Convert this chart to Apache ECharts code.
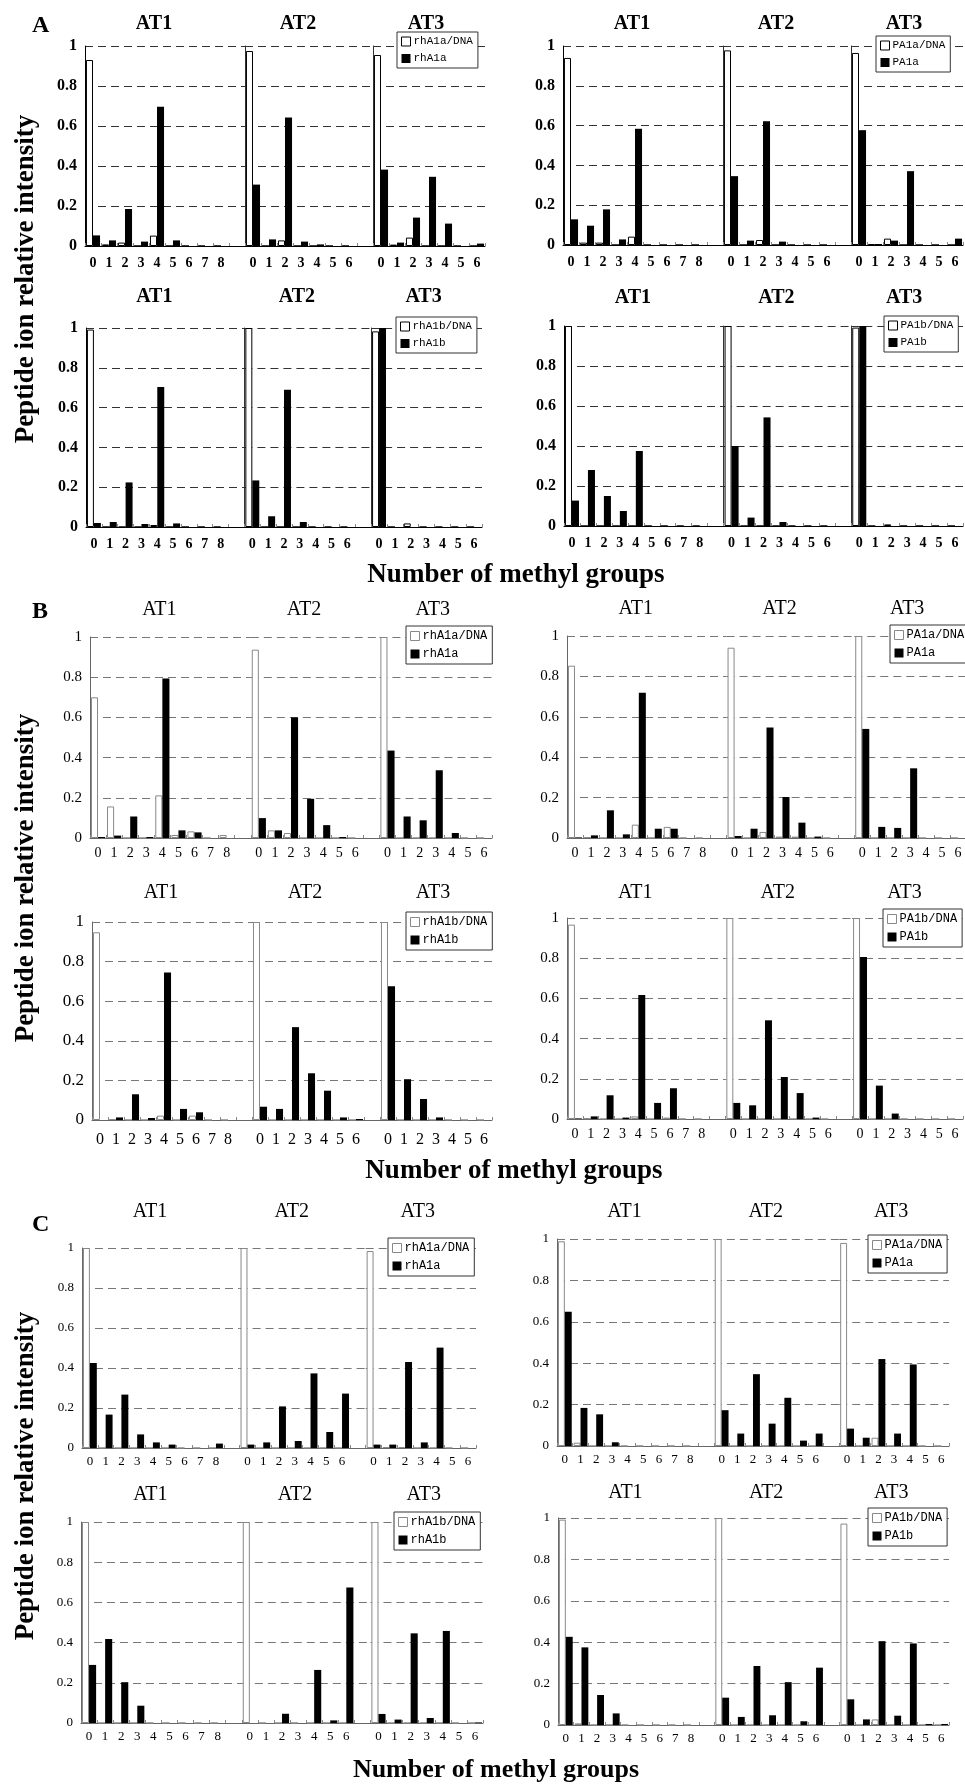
<!DOCTYPE html>
<html>
<head>
<meta charset="utf-8">
<script src="https://cdn.jsdelivr.net/npm/echarts@6.0.0/dist/echarts.min.js"></script>
<style>
  html, body { margin: 0; padding: 0; background: #fff; }
  #chart { width: 965px; height: 1784px; }
</style>
</head>
<body>
<div id="chart"></div>
<script>
// number of methyl groups per group
const at1Cats = ['0', '1', '2', '3', '4', '5', '6', '7', '8'];
const at23Cats = ['0', '1', '2', '3', '4', '5', '6'];
const groupNames = ['AT1', 'AT2', 'AT3'];
const yTicks = [0, 0.2, 0.4, 0.6, 0.8, 1];

// every array: AT1 (0-8), AT2 (0-6), AT3 (0-6)
// section A
const aRhA1aDna = [0.93, 0.008, 0.017, 0, 0.052, 0, 0, 0, 0, 0.975, 0, 0.028, 0, 0, 0, 0, 0.955, 0.007, 0.042, 0, 0, 0, 0];
const aRhA1a = [0.053, 0.028, 0.185, 0.022, 0.696, 0.028, 0, 0, 0, 0.307, 0.033, 0.643, 0.022, 0.008, 0, 0, 0.382, 0.017, 0.142, 0.346, 0.112, 0, 0.012];
const aPA1aDna = [0.94, 0.012, 0.012, 0, 0.042, 0, 0, 0, 0, 0.978, 0, 0.025, 0, 0, 0, 0, 0.965, 0.005, 0.032, 0, 0, 0, 0];
const aPA1a = [0.129, 0.097, 0.179, 0.028, 0.584, 0, 0, 0, 0, 0.346, 0.022, 0.622, 0.017, 0, 0, 0, 0.577, 0.005, 0.022, 0.371, 0, 0, 0.032];
const aRhA1bDna = [0.992, 0, 0, 0, 0.01, 0, 0, 0, 0, 1.0, 0, 0, 0, 0, 0, 0, 0.983, 0, 0.018, 0, 0, 0, 0];
const aRhA1b = [0.02, 0.025, 0.224, 0.015, 0.704, 0.018, 0, 0, 0, 0.234, 0.054, 0.69, 0.025, 0, 0, 0, 1.0, 0, 0, 0, 0, 0, 0];
const aPA1bDna = [1.0, 0, 0, 0, 0, 0, 0, 0, 0, 1.0, 0, 0, 0, 0, 0, 0, 0.992, 0, 0.008, 0, 0, 0, 0];
const aPA1b = [0.127, 0.28, 0.15, 0.075, 0.375, 0, 0, 0, 0, 0.40, 0.042, 0.543, 0.02, 0, 0, 0, 1.0, 0, 0, 0, 0, 0, 0];
// section B
const bRhA1aDna = [0.70, 0.157, 0, 0, 0.212, 0.015, 0.033, 0, 0.015, 0.937, 0.038, 0.025, 0, 0, 0, 0, 1.0, 0, 0, 0, 0, 0, 0];
const bRhA1a = [0.005, 0.012, 0.107, 0.005, 0.793, 0.038, 0.028, 0, 0, 0.099, 0.038, 0.60, 0.195, 0.064, 0.005, 0, 0.435, 0.107, 0.088, 0.337, 0.025, 0, 0];
const bPA1aDna = [0.853, 0.005, 0, 0, 0.066, 0, 0.055, 0, 0, 0.942, 0, 0.03, 0.007, 0.007, 0, 0, 1.0, 0, 0, 0, 0, 0, 0];
const bPA1a = [0.003, 0.013, 0.137, 0.018, 0.719, 0.046, 0.046, 0, 0, 0.01, 0.046, 0.547, 0.203, 0.076, 0.007, 0, 0.54, 0.055, 0.05, 0.345, 0, 0, 0];
const bRhA1bDna = [0.948, 0.005, 0, 0, 0.022, 0, 0.022, 0, 0, 1.0, 0, 0, 0, 0, 0, 0, 1.0, 0, 0, 0, 0, 0, 0];
const bRhA1b = [0, 0.013, 0.13, 0.01, 0.745, 0.056, 0.039, 0, 0, 0.067, 0.056, 0.469, 0.236, 0.148, 0.013, 0.005, 0.675, 0.206, 0.106, 0.013, 0, 0, 0];
const bPA1bDna = [0.967, 0.003, 0, 0, 0.013, 0, 0.007, 0, 0, 1.0, 0, 0, 0, 0, 0, 0, 1.0, 0, 0, 0, 0, 0, 0];
const bPA1b = [0.003, 0.013, 0.118, 0.007, 0.617, 0.08, 0.153, 0, 0, 0.08, 0.068, 0.491, 0.209, 0.129, 0.007, 0, 0.806, 0.166, 0.027, 0, 0, 0, 0];
// section C
const cRhA1aDna = [1.0, 0, 0, 0, 0, 0, 0, 0, 0, 1.0, 0, 0, 0, 0, 0, 0, 0.985, 0.005, 0.005, 0, 0, 0, 0];
const cRhA1a = [0.425, 0.167, 0.267, 0.068, 0.028, 0.017, 0, 0, 0.022, 0.017, 0.028, 0.208, 0.035, 0.373, 0.08, 0.272, 0.017, 0.017, 0.43, 0.028, 0.502, 0, 0];
const cPA1aDna = [0.989, 0.016, 0, 0, 0, 0, 0, 0, 0, 1.0, 0, 0, 0, 0, 0, 0, 0.981, 0, 0.04, 0, 0, 0, 0];
const cPA1a = [0.649, 0.184, 0.153, 0.018, 0, 0, 0, 0, 0, 0.173, 0.06, 0.347, 0.108, 0.233, 0.026, 0.06, 0.084, 0.04, 0.42, 0.06, 0.394, 0, 0];
const cRhA1bDna = [1.0, 0, 0, 0, 0, 0, 0, 0, 0, 1.0, 0, 0, 0, 0, 0, 0, 1.0, 0, 0, 0, 0, 0, 0];
const cRhA1b = [0.289, 0.418, 0.203, 0.086, 0, 0, 0, 0, 0, 0, 0, 0.046, 0, 0.264, 0.013, 0.674, 0.045, 0.017, 0.446, 0.025, 0.458, 0, 0.003];
const cPA1bDna = [0.992, 0.008, 0, 0, 0, 0, 0, 0, 0, 1.0, 0, 0, 0, 0, 0, 0, 0.973, 0, 0.027, 0, 0, 0, 0];
const cPA1b = [0.426, 0.375, 0.145, 0.056, 0, 0, 0, 0, 0, 0.132, 0.039, 0.285, 0.047, 0.207, 0.018, 0.277, 0.124, 0.027, 0.405, 0.045, 0.394, 0.005, 0.005];

const serif = '"Liberation Serif", "Times New Roman", serif';

// look of each section
const secStyle = {
  A: { weight: 'bold', yFs: 16, xFs: 14, xMargin: 10, split: '#333', axis: '#000', dnaBorder: '#000', sep: true, legFs: 11 },
  B: { weight: 'normal', yFs: 15, xFs: 14, xMargin: 8, split: '#777', axis: '#666', dnaBorder: '#888', sep: false, legFs: 12 },
  C: { weight: 'normal', yFs: 13, xFs: 13, xMargin: 7, split: '#777', axis: '#666', dnaBorder: '#888', sep: false, legFs: 12 }
};

// x0/x1: plot left/right, y1/y0: pixel rows of 1 and 0, ty: AT title row, lx/ly: legend box
const panels = [
  { sec: 'A', names: ['rhA1a/DNA', 'rhA1a'], dna: aRhA1aDna, pep: aRhA1a, x0: 85, x1: 485, y1: 46, y0: 246, ty: 24, lx: 397, ly: 32 },
  { sec: 'A', names: ['PA1a/DNA', 'PA1a'], dna: aPA1aDna, pep: aPA1a, x0: 563, x1: 963, y1: 46, y0: 245, ty: 24, lx: 876, ly: 36 },
  { sec: 'A', names: ['rhA1b/DNA', 'rhA1b'], dna: aRhA1bDna, pep: aRhA1b, x0: 86, x1: 482, y1: 328, y0: 527, ty: 297, lx: 396, ly: 317 },
  { sec: 'A', names: ['PA1b/DNA', 'PA1b'], dna: aPA1bDna, pep: aPA1b, x0: 564, x1: 963, y1: 326, y0: 526, ty: 298, lx: 884, ly: 316 },
  { sec: 'B', names: ['rhA1a/DNA', 'rhA1a'], dna: bRhA1aDna, pep: bRhA1a, x0: 90, x1: 492, y1: 637, y0: 838, ty: 610, lx: 406, ly: 626 },
  { sec: 'B', names: ['PA1a/DNA', 'PA1a'], dna: bPA1aDna, pep: bPA1a, x0: 567, x1: 966, y1: 636, y0: 838, ty: 609, lx: 890, ly: 625 },
  { sec: 'B', names: ['rhA1b/DNA', 'rhA1b'], dna: bRhA1bDna, pep: bRhA1b, x0: 92, x1: 492, y1: 922, y0: 1120, ty: 893, lx: 406, ly: 912, yFs: 17, xFs: 16, xMargin: 12 },
  { sec: 'B', names: ['PA1b/DNA', 'PA1b'], dna: bPA1bDna, pep: bPA1b, x0: 567, x1: 963, y1: 918, y0: 1119, ty: 893, lx: 883, ly: 909 },
  { sec: 'C', names: ['rhA1a/DNA', 'rhA1a'], dna: cRhA1aDna, pep: cRhA1a, x0: 82, x1: 476, y1: 1248, y0: 1448, ty: 1212, lx: 388, ly: 1238 },
  { sec: 'C', names: ['PA1a/DNA', 'PA1a'], dna: cPA1aDna, pep: cPA1a, x0: 557, x1: 949, y1: 1239, y0: 1446, ty: 1212, lx: 868, ly: 1235 },
  { sec: 'C', names: ['rhA1b/DNA', 'rhA1b'], dna: cRhA1bDna, pep: cRhA1b, x0: 81, x1: 483, y1: 1522, y0: 1723, ty: 1495, lx: 394, ly: 1512 },
  { sec: 'C', names: ['PA1b/DNA', 'PA1b'], dna: cPA1bDna, pep: cPA1b, x0: 558, x1: 949, y1: 1518, y0: 1725, ty: 1493, lx: 868, ly: 1508 }
];

const grids = [], xAxes = [], yAxes = [], series = [], legends = [], graphics = [];

// group slots: AT1 9 + 1 blank, AT2 7 + 1 blank, AT3 7
const slotCount = [10, 8, 7];
const slotOffset = [0, 10, 18];
const dataRange = [[0, 9], [9, 16], [16, 23]];

panels.forEach((p) => {
  const s = secStyle[p.sec];
  const yFs = p.yFs || s.yFs;
  const xFs = p.xFs || s.xFs;
  const xMargin = p.xMargin || s.xMargin;
  const slot = (p.x1 - p.x0) / 25;

  for (let g = 0; g < 3; g++) {
    const idx = grids.length;
    const left = p.x0 + slotOffset[g] * slot;
    const cats = g === 0 ? at1Cats.concat(['']) : g === 1 ? at23Cats.concat(['']) : at23Cats;
    const r = dataRange[g];

    grids.push({
      left: left,
      top: p.y1,
      width: slotCount[g] * slot,
      height: p.y0 - p.y1,
      outerBoundsMode: 'none'
    });
    xAxes.push({
      type: 'category',
      gridIndex: idx,
      data: cats,
      axisLine: { show: true, lineStyle: { color: s.axis, width: 1 } },
      axisTick: { show: true, inside: true, length: 3, lineStyle: { color: '#888' } },
      axisLabel: {
        interval: 0,
        margin: xMargin,
        color: '#000',
        fontFamily: serif,
        fontSize: xFs,
        fontWeight: s.weight
      },
      splitLine: { show: false }
    });
    yAxes.push({
      type: 'value',
      gridIndex: idx,
      min: 0,
      max: 1,
      interval: 0.2,
      axisLine: { show: g === 0 || s.sep, lineStyle: { color: g === 0 ? s.axis : '#333', width: 1 } },
      axisTick: { show: false },
      axisLabel: {
        show: g === 0,
        margin: 8,
        color: '#000',
        fontFamily: serif,
        fontSize: yFs,
        fontWeight: s.weight,
        formatter: (v) => String(+v.toFixed(1))
      },
      splitLine: { show: true, lineStyle: { color: s.split, type: [8, 5], width: 1 } }
    });
    series.push({
      name: p.names[0],
      type: 'bar',
      xAxisIndex: idx,
      yAxisIndex: idx,
      data: p.dna.slice(r[0], r[1]),
      barGap: '0%',
      barCategoryGap: '12%',
      itemStyle: { color: '#fff', borderColor: s.dnaBorder, borderWidth: 1 }
    });
    series.push({
      name: p.names[1],
      type: 'bar',
      xAxisIndex: idx,
      yAxisIndex: idx,
      data: p.pep.slice(r[0], r[1]),
      barGap: '0%',
      barCategoryGap: '12%',
      itemStyle: { color: '#000' }
    });

    // group title above the bars
    const n = r[1] - r[0];
    graphics.push({
      type: 'text',
      x: left + (n * slot) / 2 - 3,
      y: p.ty,
      style: {
        text: groupNames[g],
        font: s.weight + ' 20px ' + serif,
        fill: '#000',
        align: 'center',
        verticalAlign: 'middle',
        textAlign: 'center',
        textVerticalAlign: 'middle'
      }
    });
  }

  legends.push({
    left: p.lx,
    top: p.ly,
    orient: 'vertical',
    selectedMode: false,
    itemWidth: 9,
    itemHeight: 9,
    itemGap: 6,
    padding: [4, 5, 4, 4],
    backgroundColor: '#fff',
    borderColor: '#333',
    borderWidth: 1,
    textStyle: { fontFamily: '"Liberation Mono", monospace', fontSize: s.legFs, color: '#000', padding: [0, 0, 0, -2] },
    data: [
      { name: p.names[0], icon: 'rect', itemStyle: { color: '#fff', borderColor: s.dnaBorder, borderWidth: 1 } },
      { name: p.names[1], icon: 'rect', itemStyle: { color: '#000', borderWidth: 0 } }
    ]
  });
});

// section letters and shared axis titles
const sections = [
  { letter: 'A', ly: 14, yMid: 279, xTitleY: 575, xTitleX: 516, fs: 27 },
  { letter: 'B', ly: 600, yMid: 878, xTitleY: 1171, xTitleX: 514, fs: 27 },
  { letter: 'C', ly: 1213, yMid: 1476, xTitleY: 1770, xTitleX: 496, fs: 26 }
];
sections.forEach((sc) => {
  graphics.push({
    type: 'text',
    left: 32,
    top: sc.ly,
    style: { text: sc.letter, font: 'bold 24px ' + serif, fill: '#000' }
  });
  graphics.push({
    type: 'text',
    x: 26,
    y: sc.yMid,
    rotation: Math.PI / 2,
    style: {
      text: 'Peptide ion relative intensity',
      font: 'bold 27px ' + serif,
      fill: '#000',
      align: 'center',
      verticalAlign: 'middle',
      textAlign: 'center',
      textVerticalAlign: 'middle'
    }
  });
  graphics.push({
    type: 'text',
    x: sc.xTitleX,
    y: sc.xTitleY,
    style: {
      text: 'Number of methyl groups',
      font: 'bold ' + sc.fs + 'px ' + serif,
      fill: '#000',
      align: 'center',
      verticalAlign: 'middle',
      textAlign: 'center',
      textVerticalAlign: 'middle'
    }
  });
});

const chart = echarts.init(document.getElementById('chart'));
chart.setOption({
  animation: false,
  backgroundColor: '#fff',
  grid: grids,
  xAxis: xAxes,
  yAxis: yAxes,
  legend: legends,
  series: series,
  graphic: graphics
});
</script>
</body>
</html>
